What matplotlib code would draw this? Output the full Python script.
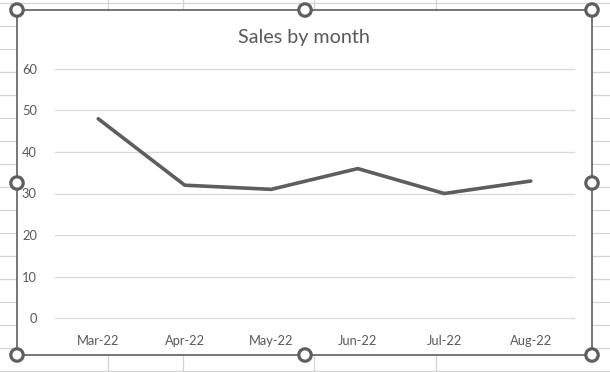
import matplotlib
matplotlib.use("Agg")
import matplotlib.pyplot as plt
from matplotlib.patches import Circle, Rectangle

months = ["Mar-22", "Apr-22", "May-22", "Jun-22", "Jul-22", "Aug-22"]
sales = [48, 32, 31, 36, 30, 33]
y_ticks = [0, 10, 20, 30, 40, 50, 60]
title = "Sales by month"

W, H = 610, 372
plt.rcParams['font.family'] = ['Lato', 'DejaVu Sans']
fig = plt.figure(figsize=(W / 100, H / 100), dpi=100)

# background (spreadsheet + chart frame) in pixel coordinates
bg = fig.add_axes([0, 0, 1, 1])
bg.set_xlim(0, W)
bg.set_ylim(H, 0)
bg.axis("off")
cell = "#D4D4D4"
for k in range(17):
    y = 3 + 23 * k
    bg.plot([0, W], [y, y], color=cell, lw=0.9, zorder=0)
for x in [108, 183, 314, 436]:
    bg.plot([x, x], [0, H], color=cell, lw=0.9, zorder=0)
bg.add_patch(Rectangle((17, 10), 575, 345, facecolor="white", edgecolor="#5F5F5F",
                       lw=1.2, zorder=1))
for (cx, cy) in [(17, 10), (305, 10), (592, 10), (17, 183), (592, 183),
                 (17, 355), (305, 355), (592, 355)]:
    bg.add_patch(Circle((cx, cy), 6.2, facecolor="white", edgecolor="#5F5F5F",
                        lw=2.3, zorder=5))
bg.text(304, 37, title, ha="center", va="center", fontsize=14.2, color="#595959", zorder=3)

# chart plot area
left, right, top, bottom = 55, 574, 69, 318
ax = fig.add_axes([left / W, (H - bottom) / H, (right - left) / W, (bottom - top) / H])
ax.set_facecolor("none")
ax.set_xlim(-0.5, len(months) - 0.5)
ax.set_ylim(0, 60)
ax.set_yticks(y_ticks)
ax.set_xticks(range(len(months)))
ax.set_xticklabels(months)
ax.yaxis.grid(True, color="#D9D9D9", lw=0.9)
for gl in ax.get_ygridlines():
    gl.set_clip_on(False)
ax.set_axisbelow(True)
for s in ax.spines.values():
    s.set_visible(False)
ax.tick_params(axis="both", length=0, labelsize=9.3, colors="#595959")
ax.tick_params(axis="y", pad=13)
ax.tick_params(axis="x", pad=12)
ax.plot(range(len(months)), sales, color="#5E5E5E", lw=2.6,
        solid_capstyle="round", solid_joinstyle="round", zorder=3)

fig.savefig("out.png", dpi=100)
